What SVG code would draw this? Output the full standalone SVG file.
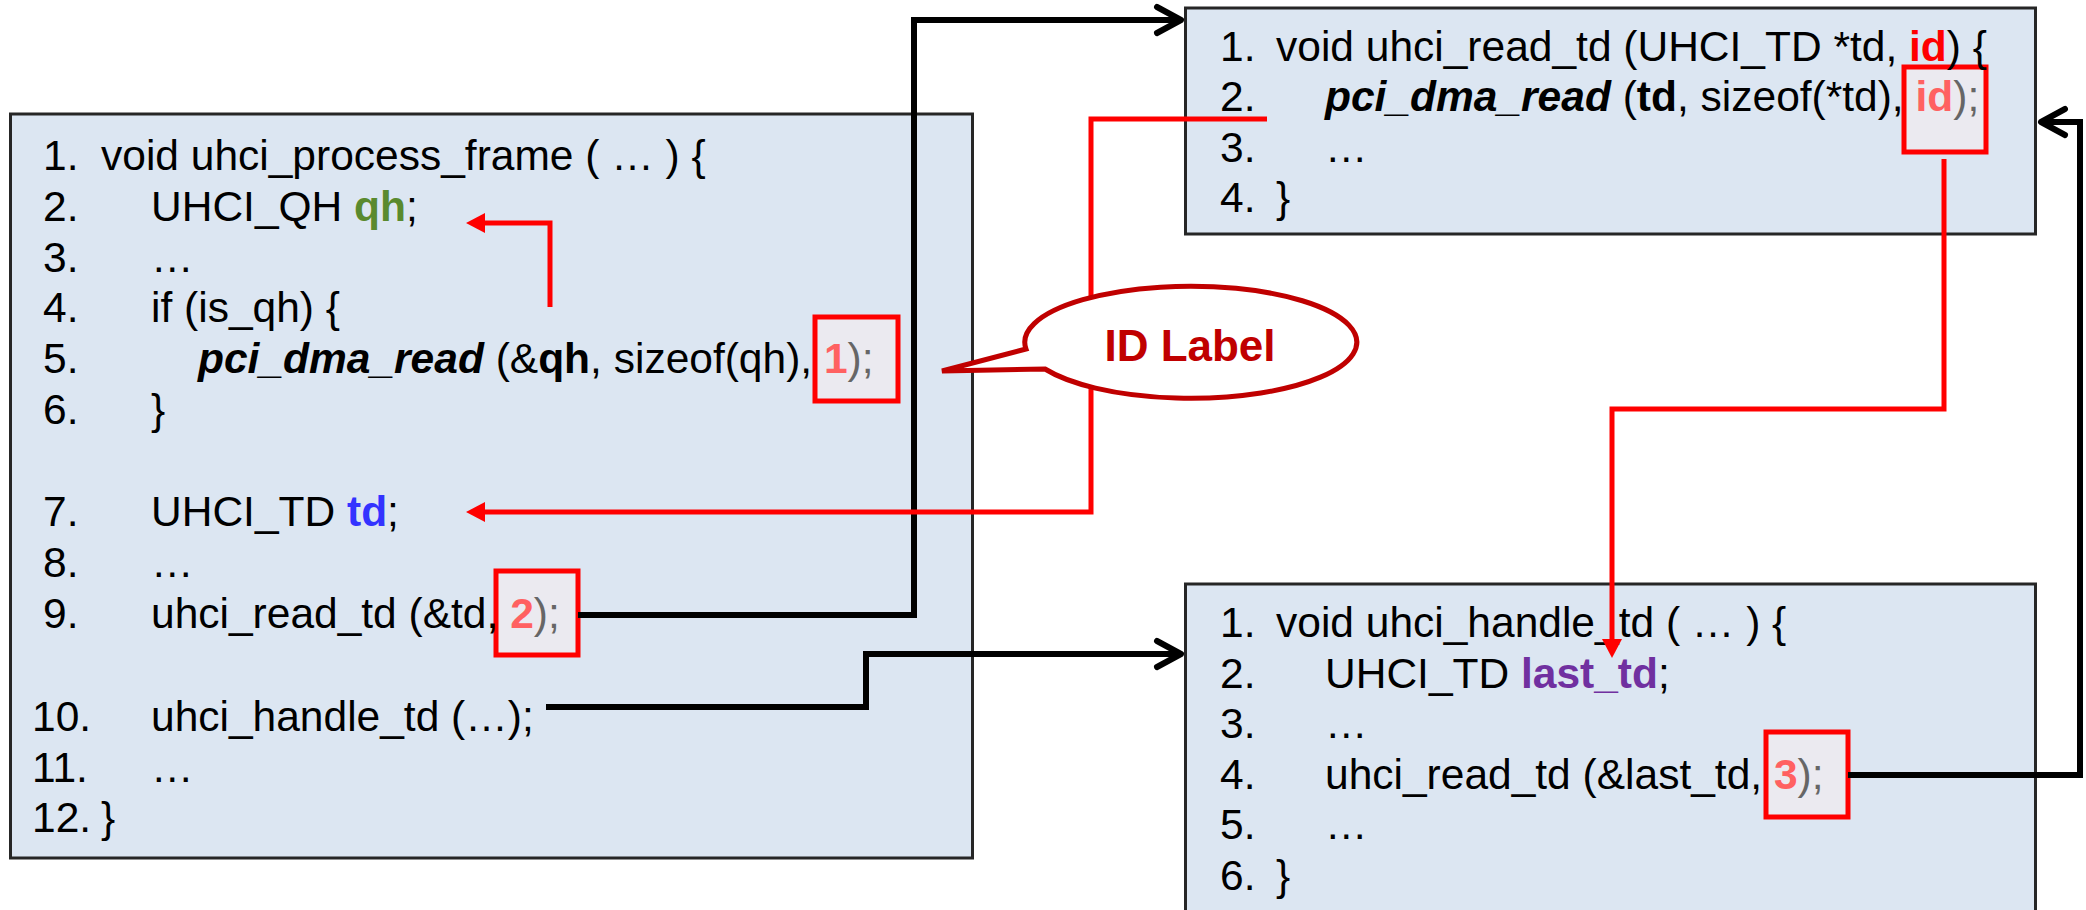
<svg xmlns="http://www.w3.org/2000/svg" width="2086" height="910" viewBox="0 0 2086 910">
<style>
.bg{fill:#ffffff}
.box{fill:#dce6f2;stroke:#262626;stroke-width:3}
.idbox{fill:#ebeaf0;stroke:#ff0000;stroke-width:5}
.code{font-family:"Liberation Sans",Arial,sans-serif;font-size:42.5px;fill:#000000}
.b{font-weight:bold}
.bi{font-weight:bold;font-style:italic}
.num{fill:#ff6161;font-weight:bold}
.gray{fill:#666666}
.blk{fill:none;stroke:#000000;stroke-width:6}
.red{fill:none;stroke:#ff0000;stroke-width:5}
.callout{fill:#ffffff;stroke:#c00000;stroke-width:5}
.lbl{font-family:"Liberation Sans",Arial,sans-serif;font-size:44px;font-weight:bold;fill:#c00000}
</style>
<defs>
<marker id="chev" markerUnits="userSpaceOnUse" viewBox="-32 -20 38 40" refX="0" refY="0" markerWidth="38" markerHeight="40" orient="auto">
<path d="M-24,-13 L0,0 L-24,13" fill="none" stroke="#000000" stroke-width="6" stroke-linejoin="round" stroke-linecap="round"/>
</marker>
<marker id="tri" markerUnits="userSpaceOnUse" viewBox="-12 -12 24 24" refX="0" refY="0" markerWidth="24" markerHeight="24" orient="auto">
<path d="M-9,-10 L10,0 L-9,10 Z" fill="#ff0000"/>
</marker>
</defs>
<rect class="bg" x="0" y="0" width="2086" height="910"/>

<g id="uhci_process_frame">
<rect class="box" x="10.5" y="114" width="962" height="744"/>
<rect class="idbox" x="815" y="317" width="83" height="84"/>
<rect class="idbox" x="496" y="571" width="82" height="84"/>
<text class="code" y="170"><tspan x="43">1.</tspan><tspan x="101">void uhci_process_frame ( … ) {</tspan></text>
<text class="code" y="221"><tspan x="43">2.</tspan><tspan x="151">UHCI_QH </tspan><tspan class="b" fill="#5a8a2e">qh</tspan><tspan>;</tspan></text>
<text class="code" y="272"><tspan x="43">3.</tspan><tspan x="151">…</tspan></text>
<text class="code" y="322"><tspan x="43">4.</tspan><tspan x="151">if (is_qh) {</tspan></text>
<text class="code" y="373"><tspan x="43">5.</tspan><tspan x="198" class="bi">pci_dma_read</tspan><tspan> (&amp;</tspan><tspan class="b">qh</tspan><tspan>, sizeof(qh), </tspan><tspan class="num">1</tspan><tspan class="gray">);</tspan></text>
<text class="code" y="424"><tspan x="43">6.</tspan><tspan x="151">}</tspan></text>
<text class="code" y="526"><tspan x="43">7.</tspan><tspan x="151">UHCI_TD </tspan><tspan class="b" fill="#3333ff">td</tspan><tspan>;</tspan></text>
<text class="code" y="577"><tspan x="43">8.</tspan><tspan x="151">…</tspan></text>
<text class="code" y="628"><tspan x="43">9.</tspan><tspan x="151">uhci_read_td (&amp;td, </tspan><tspan class="num">2</tspan><tspan class="gray">);</tspan></text>
<text class="code" y="731"><tspan x="32">10.</tspan><tspan x="151">uhci_handle_td (…);</tspan></text>
<text class="code" y="782"><tspan x="32">11.</tspan><tspan x="151">…</tspan></text>
<text class="code" y="832"><tspan x="32">12.</tspan><tspan x="101">}</tspan></text>
</g>

<g id="uhci_read_td">
<rect class="box" x="1185.5" y="8" width="850" height="226"/>
<rect class="idbox" x="1904" y="67" width="82" height="85"/>
<text class="code" y="61"><tspan x="1220">1.</tspan><tspan x="1276">void uhci_read_td (UHCI_TD *td, </tspan><tspan class="b" fill="#ff0000">id</tspan><tspan>) {</tspan></text>
<text class="code" y="111"><tspan x="1220">2.</tspan><tspan x="1325" class="bi">pci_dma_read</tspan><tspan> (</tspan><tspan class="b">td</tspan><tspan>, sizeof(*td), </tspan><tspan class="num">id</tspan><tspan class="gray">);</tspan></text>
<text class="code" y="162"><tspan x="1220">3.</tspan><tspan x="1325">…</tspan></text>
<text class="code" y="212"><tspan x="1220">4.</tspan><tspan x="1276">}</tspan></text>
</g>

<g id="uhci_handle_td">
<rect class="box" x="1185.5" y="584" width="850" height="340"/>
<rect class="idbox" x="1766" y="732" width="82" height="85"/>
<text class="code" y="637"><tspan x="1220">1.</tspan><tspan x="1276">void uhci_handle_td ( … ) {</tspan></text>
<text class="code" y="688"><tspan x="1220">2.</tspan><tspan x="1325">UHCI_TD </tspan><tspan class="b" fill="#7030a0">last_td</tspan><tspan>;</tspan></text>
<text class="code" y="738"><tspan x="1220">3.</tspan><tspan x="1325">…</tspan></text>
<text class="code" y="789"><tspan x="1220">4.</tspan><tspan x="1325">uhci_read_td (&amp;last_td, </tspan><tspan class="num">3</tspan><tspan class="gray">);</tspan></text>
<text class="code" y="839"><tspan x="1220">5.</tspan><tspan x="1325">…</tspan></text>
<text class="code" y="890"><tspan x="1220">6.</tspan><tspan x="1276">}</tspan></text>
</g>

<g id="connectors">
<path class="blk" d="M578,615 H914 V20 H1181" marker-end="url(#chev)"/>
<path class="blk" d="M546,707 H866 V654 H1181" marker-end="url(#chev)"/>
<path class="blk" d="M1848,775 H2080 V122 H2041" marker-end="url(#chev)"/>
<path class="red" d="M1267,119 H1091 V512 H476" marker-end="url(#tri)"/>
<path class="red" d="M550,307 V223 H476" marker-end="url(#tri)"/>
<path class="red" d="M1944,159 V409 H1612 V648" marker-end="url(#tri)"/>
</g>

<g id="id_label">
<path class="callout" d="M1026,349 L942,371 L1045,369 A166,56 0 1 0 1026,349 Z"/>
<text class="lbl" x="1190" y="361" text-anchor="middle">ID Label</text>
</g>
</svg>
